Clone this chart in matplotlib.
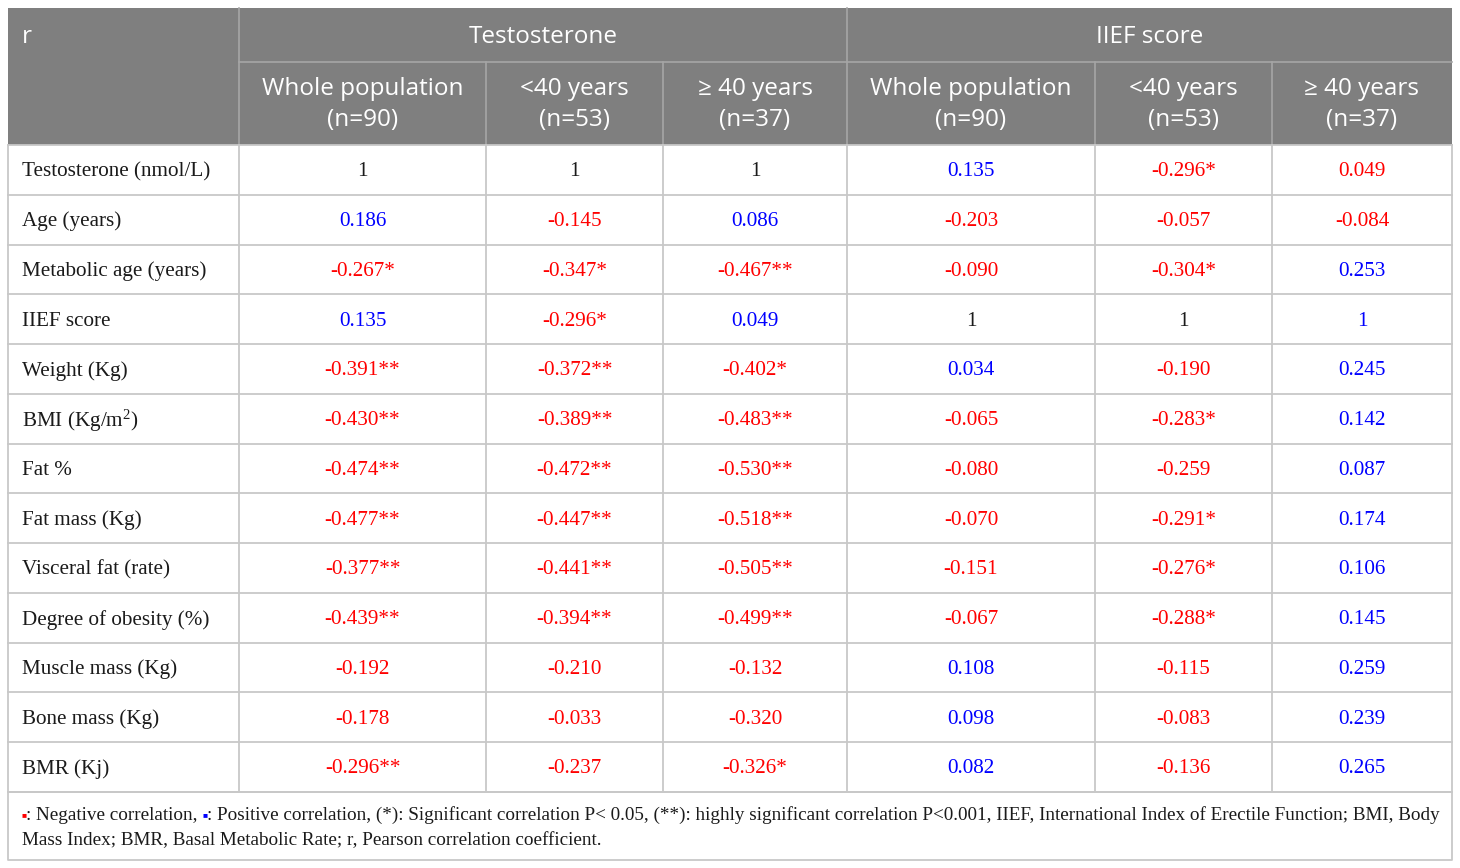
import matplotlib
matplotlib.use("Agg")
import matplotlib.pyplot as plt
from matplotlib.patches import Rectangle

# ---- data ----
groups = ["Testosterone", "IIEF score"]
subgroups = ["Whole population\n(n=90)", "<40 years\n(n=53)", "\u2265 40 years\n(n=37)"]
corner = "r"

variables = ["Testosterone (nmol/L)", "Age (years)", "Metabolic age (years)", "IIEF score",
             "Weight (Kg)", "BMI (Kg/m$^{2}$)", "Fat %", "Fat mass (Kg)",
             "Visceral fat (rate)", "Degree of obesity (%)", "Muscle mass (Kg)",
             "Bone mass (Kg)", "BMR (Kj)"]

r_testosterone = [
    ["1", "1", "1"],
    ["0.186", "-0.145", "0.086"],
    ["-0.267*", "-0.347*", "-0.467**"],
    ["0.135", "-0.296*", "0.049"],
    ["-0.391**", "-0.372**", "-0.402*"],
    ["-0.430**", "-0.389**", "-0.483**"],
    ["-0.474**", "-0.472**", "-0.530**"],
    ["-0.477**", "-0.447**", "-0.518**"],
    ["-0.377**", "-0.441**", "-0.505**"],
    ["-0.439**", "-0.394**", "-0.499**"],
    ["-0.192", "-0.210", "-0.132"],
    ["-0.178", "-0.033", "-0.320"],
    ["-0.296**", "-0.237", "-0.326*"],
]
r_iief = [
    ["0.135", "-0.296*", "0.049"],
    ["-0.203", "-0.057", "-0.084"],
    ["-0.090", "-0.304*", "0.253"],
    ["1", "1", "1"],
    ["0.034", "-0.190", "0.245"],
    ["-0.065", "-0.283*", "0.142"],
    ["-0.080", "-0.259", "0.087"],
    ["-0.070", "-0.291*", "0.174"],
    ["-0.151", "-0.276*", "0.106"],
    ["-0.067", "-0.288*", "0.145"],
    ["0.108", "-0.115", "0.259"],
    ["0.098", "-0.083", "0.239"],
    ["0.082", "-0.136", "0.265"],
]
# colour codes as printed in the source table (k = none, r = negative, b = positive)
ink_testosterone = [
    "kkk", "brb", "rrr", "brb", "rrr", "rrr", "rrr", "rrr", "rrr", "rrr", "rrr", "rrr", "rrr",
]
ink_iief = [
    "brr", "rrr", "rrb", "kkb", "brb", "rrb", "rrb", "rrb", "rrb", "rrb", "brb", "brb", "brb",
]

footnote_parts = [
    ("\u25a0", "r"), (": Negative correlation, ", "k"), ("\u25a0", "b"),
    (": Positive correlation, (*): Significant correlation P< 0.05, (**): highly significant "
     "correlation P<0.001, IIEF, International Index of Erectile Function; BMI, Body", "k"),
]
footnote_line2 = "Mass Index; BMR, Basal Metabolic Rate; r, Pearson correlation coefficient."

# ---- layout ----
W, H = 1460, 868
col_x = [8, 239, 486, 663, 847, 1095, 1272, 1452]
top, head1, head2 = 8, 62, 145
row_h = 49.75
n_rows = len(variables)
body_bottom = head2 + row_h * n_rows
bottom = 860

header_bg = "#7f7f7f"
head_line = "#a6a6a6"
grid = "#c8c8c8"
inks = {"k": "#1a1a1a", "r": "#ff0000", "b": "#0000ff"}

plt.rcParams["mathtext.fontset"] = "custom"
plt.rcParams["mathtext.rm"] = "Liberation Serif"
plt.rcParams["mathtext.it"] = "Liberation Serif:italic"

fig = plt.figure(figsize=(W / 100, H / 100), dpi=100)
ax = fig.add_axes([0, 0, 1, 1])
ax.set_xlim(0, W)
ax.set_ylim(H, 0)
ax.axis("off")

sans = dict(family="Open Sans", fontsize=17.5, color="white")
serif = dict(family="Liberation Serif", fontsize=15.2)

# header background
ax.add_patch(Rectangle((col_x[0], top), col_x[-1] - col_x[0], head2 - top,
                       facecolor=header_bg, edgecolor="none", zorder=0))
ax.plot([col_x[1], col_x[-1]], [head1, head1], color=head_line, lw=1.2)
for x in (col_x[1], col_x[4]):
    ax.plot([x, x], [top, head2], color=head_line, lw=1.2)
for x in (col_x[2], col_x[3], col_x[5], col_x[6]):
    ax.plot([x, x], [head1, head2], color=head_line, lw=1.2)

ax.text(22, (top + head1) / 2 + 2, corner, ha="left", va="center", **sans)
for g, name in enumerate(groups):
    cx = (col_x[1 + 3 * g] + col_x[4 + 3 * g]) / 2
    ax.text(cx, (top + head1) / 2 + 2, name, ha="center", va="center", **sans)
    for s, sub in enumerate(subgroups):
        c = 1 + 3 * g + s
        ax.text((col_x[c] + col_x[c + 1]) / 2, (head1 + head2) / 2 + 1, sub,
                ha="center", va="center", linespacing=1.42, **sans)

# body grid
for i in range(n_rows + 1):
    y = head2 + row_h * i
    ax.plot([col_x[0], col_x[-1]], [y, y], color=grid, lw=1.3)
for x in col_x:
    ax.plot([x, x], [head2, body_bottom], color=grid, lw=1.3)
# footnote box
ax.plot([col_x[0], col_x[-1], col_x[-1], col_x[0], col_x[0]],
        [body_bottom, body_bottom, bottom, bottom, body_bottom], color=grid, lw=1.3)

for i, var in enumerate(variables):
    cy = head2 + row_h * (i + 0.5) + 2
    ax.text(22, cy, var, ha="left", va="center", color=inks["k"], **serif)
    cells = r_testosterone[i] + r_iief[i]
    codes = ink_testosterone[i] + ink_iief[i]
    for j, (val, code) in enumerate(zip(cells, codes)):
        ax.text((col_x[j + 1] + col_x[j + 2]) / 2, cy, val, ha="center", va="center",
                color=inks[code], **serif)

# footnote
fam = ["Liberation Serif", "DejaVu Sans"]
y1, y2 = 820, 845
prev = ax.text(21, y1 - 3, footnote_parts[0][0], ha="left", va="baseline",
               family=fam, fontsize=6, color=inks[footnote_parts[0][1]])
for txt, code in footnote_parts[1:]:
    small = txt == "\u25a0"
    prev = ax.annotate(txt, xy=(1, y1 - 3 if small else y1), xycoords=(prev, "data"),
                       ha="left", va="baseline", family=fam,
                       fontsize=6 if small else 13.75, color=inks[code])
ax.text(22, y2, footnote_line2, ha="left", va="baseline", family=fam, fontsize=13.75,
        color=inks["k"])

fig.savefig("out.png", dpi=100)
